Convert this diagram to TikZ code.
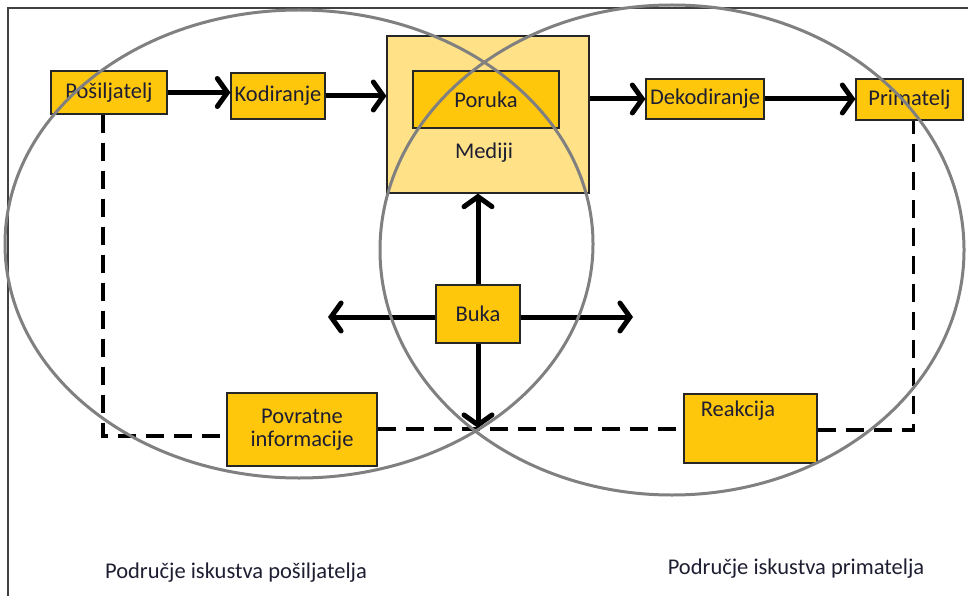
\documentclass[tikz,border=0pt]{standalone}
\usepackage{fontspec}
\setmainfont{Carlito}
\usetikzlibrary{arrows.meta}
\definecolor{boxfill}{RGB}{255,199,12}
\definecolor{medfill}{RGB}{255,225,135}
\definecolor{ringgray}{RGB}{128,128,128}
\definecolor{txt}{RGB}{30,30,50}
\tikzset{
  box/.style={draw=black!85, line width=1.2pt, fill=boxfill, inner sep=0pt, font=\fontsize{22.5}{25}\selectfont, text=txt},
  flow/.style={line width=5pt, -{Straight Barb[length=10pt,width=28pt,line width=5pt,line cap=round]}},
  fb/.style={line width=3.5pt, dash pattern=on 18pt off 10pt},
  ring/.style={draw=ringgray, line width=3pt},
  lbl/.style={font=\fontsize{22.5}{25}\selectfont, text=txt, inner sep=0pt}
}
\begin{document}
\begin{tikzpicture}[x=1pt,y=-1pt]
\useasboundingbox (0,0) rectangle (968,596);
\fill[white] (0,0) rectangle (968,596);
\draw[black!75, line width=1.3pt] (968,8) -- (8,8) -- (8,596);

\node[box, fill=medfill, minimum width=202pt, minimum height=157pt] (med) at (488,114.5) {};
\node[lbl] (medtxt) at (484,153) {Mediji};
\node[box, minimum width=146pt, minimum height=57pt] (por) at (486,99.5) {Poruka};
\node[box, minimum width=116pt, minimum height=43pt] (pos) at (109,92.5) {Pošiljatelj};
\node[box, minimum width=94pt, minimum height=46pt] (kod) at (278,96) {Kodiranje};
\node[box, minimum width=118pt, minimum height=40pt] (dek) at (705,99) {Dekodiranje};
\node[box, minimum width=107pt, minimum height=41pt] (pri) at (909.5,99.5) {Primatelj};
\node[box, minimum width=84pt, minimum height=58pt] (buka) at (478,314) {Buka};
\node[box, minimum width=150pt, minimum height=73pt, align=center] (pov) at (302,429.5) {Povratne\\[-2pt]informacije};
\node[box, minimum width=133pt, minimum height=69pt] (rea) at (750.5,428.5) {};
\node[lbl] (reatxt) at (738,411) {Reakcija};

\coordinate (bl) at (328,317);
\coordinate (br) at (633,317);
\coordinate (bd) at (478,428);

\draw[flow] (pos.east) -- (pos.east -| kod.west);
\draw[flow] (kod.east) -- (kod.east -| med.west);
\draw[flow] (med.east |- dek.west) -- (dek.west);
\draw[flow] (dek.east) -- (dek.east -| pri.west);
\draw[flow] (buka.north) -- (buka.north |- med.south);
\draw[flow] (buka.west |- bl) -- (bl);
\draw[flow] (buka.east |- br) -- (br);
\draw[flow] (buka.south) -- (bd);

\coordinate (fbl) at ([xshift=-6pt]pos.south);
\coordinate (fbr) at ([xshift=4pt]pri.south);
\draw[fb] (fbl) -- (fbl |- 0,436) -- (pov.west |- 0,436);
\draw[fb] (pov.east |- 0,429) -- (rea.west |- 0,429);
\draw[fb] (rea.east |- 0,430) -- (fbr |- 0,430) -- (fbr);

\draw[ring] (299,244) ellipse [x radius=294, y radius=234];
\draw[ring] (672,250) ellipse [x radius=292, y radius=245];

\node[lbl] (lsend) at (236,573) {Područje iskustva pošiljatelja};
\node[lbl] (lrecv) at (796,569) {Područje iskustva primatelja};
\end{tikzpicture}
\end{document}
